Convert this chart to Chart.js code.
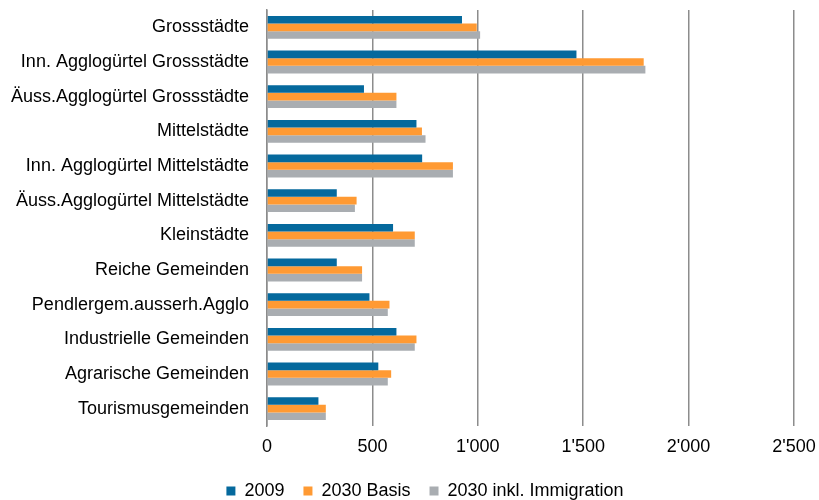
<!DOCTYPE html>
<html>
<head>
<meta charset="utf-8">
<script src="https://cdn.jsdelivr.net/npm/chart.js@4/dist/chart.umd.min.js"></script>
<style>
  html, body { margin: 0; padding: 0; background: #fff; }
  #wrap { width: 819px; height: 500px; }
</style>
</head>
<body>
<div id="wrap"><canvas id="c" width="819" height="500"></canvas></div>
<script>
// Gemeindetypen
const categories = [
  'Grossstädte',
  'Inn. Agglogürtel Grossstädte',
  'Äuss.Agglogürtel Grossstädte',
  'Mittelstädte',
  'Inn. Agglogürtel Mittelstädte',
  'Äuss.Agglogürtel Mittelstädte',
  'Kleinstädte',
  'Reiche Gemeinden',
  'Pendlergem.ausserh.Agglo',
  'Industrielle Gemeinden',
  'Agrarische Gemeinden',
  'Tourismusgemeinden'
];

const seriesNames = ['2009', '2030 Basis', '2030 inkl. Immigration'];

const values2009  = [925, 1468, 460, 709, 736, 331, 598, 331, 486, 614, 528, 244];
const valuesBasis = [995, 1787, 614, 735, 882, 425, 701, 451, 581, 709, 589, 279];
const valuesImmig = [1011, 1795, 614, 752, 882, 417, 701, 451, 573, 701, 573, 279];

const xTicks = [0, 500, 1000, 1500, 2000, 2500];

const colors = ['#05699D', '#FF9A33', '#A9ADB1'];
const FONT = '"Liberation Sans", Arial, sans-serif';

function swissFormat(v) {
  return String(v).replace(/\B(?=(\d{3})+(?!\d))/g, "'");
}

// legend sizing / placement tweaks
const legendTweak = {
  id: 'legendTweak',
  beforeInit(chart) {
    const lg = chart.legend;
    if (!lg) return;
    const fit = lg.fit.bind(lg);
    lg.fit = function () { fit(); this.height = 37; };
  },
  afterLayout(chart) {
    const lg = chart.legend;
    if (!lg) return;
    lg.left += 28; lg.right += 28;
  }
};

function noEdgePadding(scale) {
  scale.paddingTop = 0;
  scale.paddingBottom = 0;
  scale.paddingLeft = 0;
  scale.paddingRight = 0;
}

new Chart(document.getElementById('c'), {
  type: 'bar',
  data: {
    labels: categories,
    datasets: [
      { label: seriesNames[0], data: values2009,  backgroundColor: colors[0] },
      { label: seriesNames[1], data: valuesBasis, backgroundColor: colors[1] },
      { label: seriesNames[2], data: valuesImmig, backgroundColor: colors[2] }
    ]
  },
  options: {
    indexAxis: 'y',
    responsive: false,
    animation: false,
    devicePixelRatio: 1,
    categoryPercentage: 0.66,
    barPercentage: 1.0,
    layout: { padding: { left: 0, right: 25, top: 10, bottom: 0 } },
    scales: {
      x: {
        min: 0,
        max: 2500,
        afterBuildTicks(scale) { scale.ticks = xTicks.map(v => ({ value: v })); },
        grid: { color: '#8C8C8C', lineWidth: 1.5, drawTicks: false },
        border: { display: false },
        ticks: {
          padding: 10,
          color: '#000',
          font: { family: FONT, size: 18 },
          callback: v => swissFormat(v)
        },
        afterFit(scale) { scale.height = 37; noEdgePadding(scale); }
      },
      y: {
        grid: { display: false, drawTicks: false },
        border: { display: true, color: '#8C8C8C', width: 1.5 },
        ticks: {
          padding: 18,
          color: '#000',
          font: { family: FONT, size: 18 }
        },
        afterFit(scale) { scale.width = 267; noEdgePadding(scale); }
      }
    },
    plugins: {
      legend: {
        position: 'bottom',
        labels: {
          boxWidth: 9,
          boxHeight: 9,
          padding: 19,
          color: '#000',
          font: { family: FONT, size: 18 }
        }
      },
      tooltip: { enabled: false }
    }
  },
  plugins: [legendTweak]
});
</script>
</body>
</html>
